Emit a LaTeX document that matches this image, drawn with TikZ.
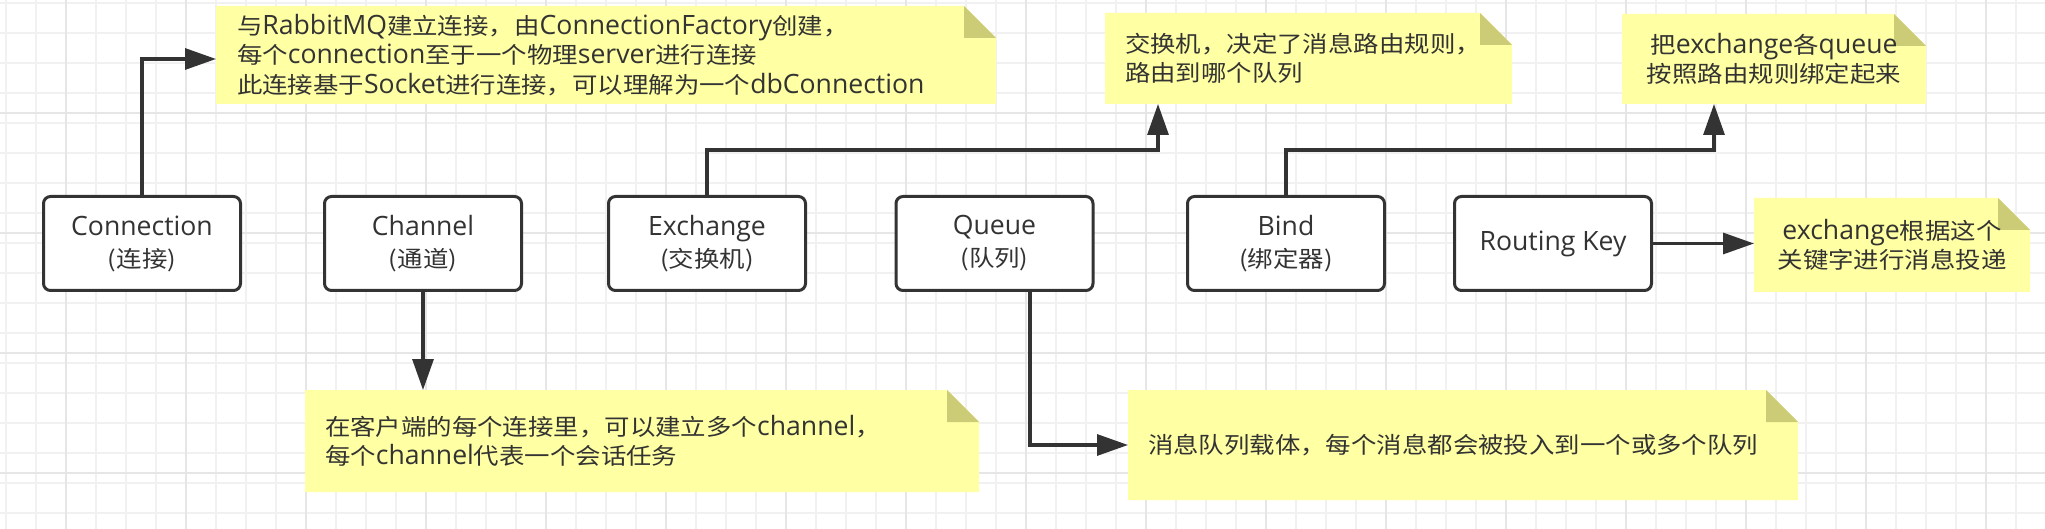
\documentclass[tikz,border=0pt]{standalone}
\usepackage{fontspec}
\setmainfont[FakeStretch=1.12]{Noto Sans CJK SC}
\newfontfamily\enf{Open Sans}
\newcommand\en[1]{{\enf\fontsize{26.6}{\baselineskip}\selectfont #1}}
\usetikzlibrary{arrows.meta}
\definecolor{linec}{HTML}{333333}
\definecolor{textc}{HTML}{333333}
\definecolor{notefill}{HTML}{FFFFA3}
\definecolor{foldfill}{HTML}{CCCC77}
\definecolor{gridminor}{HTML}{F1F1F1}
\definecolor{gridmajor}{HTML}{E6E6E6}
\pgfdeclarelayer{bg}
\pgfsetlayers{bg,main}
\tikzset{
  box/.style={draw=linec, line width=3pt, fill=white, rounded corners=7pt,
    minimum width=197pt, minimum height=94pt, align=center, text=textc,
    inner sep=0pt, font=\fontsize{22.7}{32}\selectfont},
  notetext/.style={inner sep=0pt, outer sep=0pt, text=textc,
    font=\fontsize{22.7}{29.5}\selectfont},
  conn/.style={draw=linec, line width=3.2pt, -{Triangle[length=31pt,width=21pt]}},
  gmin/.style={draw=gridminor, line width=2pt},
  gmaj/.style={draw=gridmajor, line width=2pt},
}
\newcommand\notebg[1]{%
  \fill[notefill] (#1.north west) -- ([xshift=-32pt]#1.north east)
    -- ([yshift=-32pt]#1.north east) -- (#1.south east) -- (#1.south west) -- cycle;
  \fill[foldfill] ([xshift=-32pt]#1.north east) -- ([xshift=-32pt,yshift=-32pt]#1.north east)
    -- ([yshift=-32pt]#1.north east) -- cycle;}
\begin{document}
\begin{tikzpicture}[x=1pt,y=-1pt]
\useasboundingbox (0,0) rectangle (2045,529);
\begin{pgfonlayer}{bg}
  \fill[white] (0,0) rectangle (2045,529);
  \foreach \x in {6,36,...,2045} \draw[gmin] (\x,0) -- (\x,529);
  \foreach \y in {2.7,32.7,...,529} \draw[gmin] (0,\y) -- (2045,\y);
  \foreach \x in {66,186,...,2045} \draw[gmaj] (\x,0) -- (\x,529);
  \foreach \y in {112.7,232.7,352.7,472.7} \draw[gmaj] (0,\y) -- (2045,\y);
\end{pgfonlayer}

% boxes
\node[box] (conn) at (142,243.5) {\en{Connection}\\(连接)};
\node[box] (chan) at (423,243.5) {\en{Channel}\\(通道)};
\node[box] (exch) at (707,243.5) {\en{Exchange}\\(交换机)};
\node[box] (queue) at (994.5,243.5) {\en{Queue}\\(队列)};
\node[box] (bind) at (1286,243.5) {\en{Bind}\\(绑定器)};
\node[box] (rk) at (1553,243.5) {\en{Routing Key}};

% notes
\node[notetext, minimum width=780pt, minimum height=98pt, text width=738pt,
  inner xsep=21pt, align=left] (n1) at (606,55)
  {与\en{RabbitMQ}建立连接，由\en{ConnectionFactory}创建，\\
   每个\en{connection}至于一个物理\en{server}进行连接\\
   此连接基于\en{Socket}进行连接，可以理解为一个\en{dbConnection}};
\node[notetext, minimum width=407pt, minimum height=91pt, text width=367pt,
  inner xsep=20pt, align=left] (n2) at (1308.5,58.5)
  {交换机，决定了消息路由规则，\\路由到哪个队列};
\node[notetext, minimum width=304pt, minimum height=90pt, text width=284pt,
  inner xsep=10pt, align=center] (n3) at (1774,59)
  {把\en{exchange}各\en{queue}\\按照路由规则绑定起来};
\node[notetext, minimum width=276pt, minimum height=94pt, text width=266pt,
  inner xsep=5pt, align=center] (n4) at (1892,245)
  {\en{exchange}根据这个\\关键字进行消息投递};
\node[notetext, minimum width=674pt, minimum height=102pt, text width=634pt,
  inner xsep=20pt, align=left] (n5) at (642,441)
  {在客户端的每个连接里，可以建立多个\en{channel}，\\每个\en{channel}代表一个会话任务};
\node[notetext, minimum width=670pt, minimum height=110pt, text width=630pt,
  inner xsep=20pt, align=left] (n6) at (1463,445)
  {消息队列载体，每个消息都会被投入到一个或多个队列};

\begin{pgfonlayer}{bg}
  \notebg{n1}\notebg{n2}\notebg{n3}\notebg{n4}\notebg{n5}\notebg{n6}
\end{pgfonlayer}

% connectors
\draw[conn] (conn.north) |- ([yshift=-4pt]n1.west);
\draw[conn] (exch.north) -- ++(0,-45) -| ([xshift=-150.5pt]n2.south);
\draw[conn] (bind.north) -- ++(0,-45) -| ([xshift=-60pt]n3.south);
\draw[conn] (rk.east) -- (rk.east -| n4.west);
\draw[conn] (chan.south) -- (chan.south |- n5.north);
\draw[conn] ([xshift=35.5pt]queue.south) |- (n6.west);
\end{tikzpicture}
\end{document}
